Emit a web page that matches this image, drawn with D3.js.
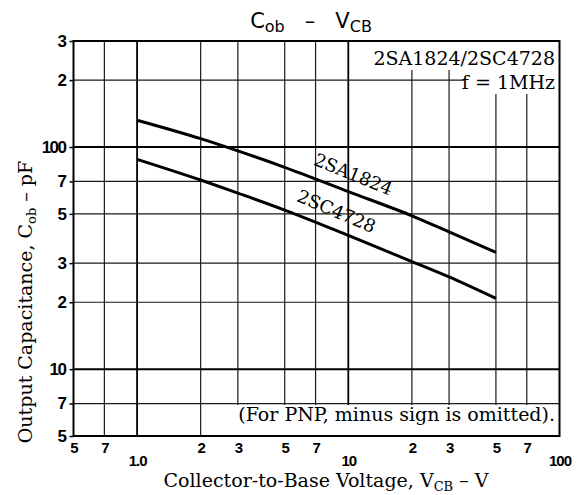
<!DOCTYPE html>
<html>
<head>
<meta charset="utf-8">
<script src="https://cdn.jsdelivr.net/npm/d3@7"></script>
<style>
  body { margin: 0; background: #fff; }
  svg { display: block; }
</style>
</head>
<body>
<div id="chart"></div>
<script>
// Cob - VCB
const vcb = [1, 2, 3, 5, 10, 20, 30, 50];
const cob2SA1824 = [132, 109, 96, 81, 63, 49, 41.5, 33.5];
const cob2SC4728 = [88, 71, 62, 52, 40, 30.5, 26, 20.8];

const xTicks = [0.5, 0.7, 1, 2, 3, 5, 7, 10, 20, 30, 50, 70, 100];
const xTickLabels = ["5", "7", "1.0", "2", "3", "5", "7", "10", "2", "3", "5", "7", "100"];
const yTicks = [5, 7, 10, 20, 30, 50, 70, 100, 200, 300];
const yTickLabels = ["5", "7", "10", "2", "3", "5", "7", "100", "2", "3"];
const xMajor = [1, 10];
const yMajor = [10, 100];

const width = 586, height = 495;
const serif = "'DejaVu Serif', serif";
const sans = "'Liberation Sans', Arial, sans-serif";

const svg = d3.select("#chart").append("svg")
    .attr("width", width)
    .attr("height", height);

const x = d3.scaleLog().domain([0.5, 100]).range([73.5, 559.5]);
const y = d3.scaleLog().domain([5, 300]).range([436, 41]);

// grid
const grid = svg.append("g");
grid.selectAll("line.vx")
    .data(xTicks.slice(1, -1))
    .join("line")
    .attr("x1", d => x(d)).attr("x2", d => x(d))
    .attr("y1", y(300)).attr("y2", y(5))
    .attr("stroke", d => xMajor.includes(d) ? "#000" : "#1a1a1a")
    .attr("stroke-width", d => xMajor.includes(d) ? 1.8 : 1.2);
grid.selectAll("line.hy")
    .data(yTicks.slice(1, -1))
    .join("line")
    .attr("y1", d => y(d)).attr("y2", d => y(d))
    .attr("x1", x(0.5)).attr("x2", x(100))
    .attr("stroke", d => yMajor.includes(d) ? "#000" : "#1a1a1a")
    .attr("stroke-width", d => yMajor.includes(d) ? 2 : 1.2);

// white patches behind the notes
svg.append("rect").attr("x", 366).attr("y", y(300)).attr("width", x(100) - 366).attr("height", 29).attr("fill", "#fff");
svg.append("rect").attr("x", 464).attr("y", 70).attr("width", x(100) - 464).attr("height", 24).attr("fill", "#fff");
svg.append("rect").attr("x", 222).attr("y", y(7) + 1.5).attr("width", x(100) - 222).attr("height", y(5) - y(7) - 1.5).attr("fill", "#fff");

// frame
svg.append("rect")
    .attr("x", x(0.5)).attr("y", y(300))
    .attr("width", x(100) - x(0.5)).attr("height", y(5) - y(300))
    .attr("fill", "none").attr("stroke", "#000").attr("stroke-width", 2);

// y axis
const yAxis = svg.append("g")
    .attr("transform", `translate(${x(0.5)},0)`)
    .call(d3.axisLeft(y).tickValues(yTicks).tickSize(4).tickPadding(4)
        .tickFormat((d, i) => yTickLabels[i]));
yAxis.select(".domain").remove();
yAxis.selectAll("line").attr("stroke", "#000").attr("stroke-width", 1.5);
yAxis.selectAll("text")
    .attr("font-family", sans).attr("font-weight", "bold")
    .attr("font-size", 17).attr("letter-spacing", -1.5).attr("fill", "#000");

// x axis
const xAxis = svg.append("g")
    .attr("transform", `translate(0,${y(5)})`)
    .call(d3.axisBottom(x).tickValues(xTicks).tickSize(0).tickPadding(6)
        .tickFormat((d, i) => xTickLabels[i]));
xAxis.select(".domain").remove();
xAxis.selectAll("text")
    .attr("font-family", sans).attr("font-weight", "bold")
    .attr("font-size", 15).attr("letter-spacing", -1).attr("fill", "#000")
    .attr("dy", d => [1, 10, 100].includes(d) ? "1.6em" : "0.71em");

// curves
const line = d3.line()
    .x((d, i) => x(vcb[i]))
    .y(d => y(d))
    .curve(d3.curveMonotoneX);
[cob2SA1824, cob2SC4728].forEach(s => {
    svg.append("path")
        .attr("d", line(s))
        .attr("fill", "none")
        .attr("stroke", "#000")
        .attr("stroke-width", 3);
});

// curve labels
svg.append("text")
    .attr("transform", "translate(351,180) rotate(22)")
    .attr("text-anchor", "middle")
    .attr("font-family", serif).attr("font-size", 18)
    .text("2SA1824");
svg.append("text")
    .attr("transform", "translate(334,217) rotate(23)")
    .attr("text-anchor", "middle")
    .attr("font-family", serif).attr("font-size", 18)
    .text("2SC4728");

// notes
svg.append("text")
    .attr("x", 555).attr("y", 65)
    .attr("text-anchor", "end")
    .attr("font-family", serif).attr("font-size", 19)
    .text("2SA1824/2SC4728");
svg.append("text")
    .attr("x", 555).attr("y", 89)
    .attr("text-anchor", "end")
    .attr("font-family", serif).attr("font-size", 19)
    .text("f = 1MHz");
svg.append("text")
    .attr("x", 555).attr("y", 421)
    .attr("text-anchor", "end")
    .attr("font-family", serif).attr("font-size", 19)
    .text("(For PNP, minus sign is omitted).");

// title
const title = svg.append("text")
    .attr("x", 311).attr("y", 28)
    .attr("text-anchor", "middle")
    .style("white-space", "pre")
    .attr("font-family", "'DejaVu Sans', sans-serif").attr("font-size", 21);
title.append("tspan").text("C");
title.append("tspan").attr("font-size", 16).attr("dy", 4).text("ob");
title.append("tspan").attr("dy", -4).text("   \u2013   ");
title.append("tspan").text("V");
title.append("tspan").attr("font-size", 16).attr("dy", 4).text("CB");

// axis titles
const xt = svg.append("text")
    .attr("x", 326).attr("y", 487)
    .attr("text-anchor", "middle")
    .attr("font-family", serif).attr("font-size", 19);
xt.append("tspan").text("Collector-to-Base Voltage, V");
xt.append("tspan").attr("font-size", 13).attr("dy", 4).text("CB");
xt.append("tspan").attr("dy", -4).text(" \u2013 V");

const yt = svg.append("text")
    .attr("transform", "translate(32,302) rotate(-90)")
    .attr("text-anchor", "middle")
    .attr("font-family", serif).attr("font-size", 19);
yt.append("tspan").text("Output Capacitance, C");
yt.append("tspan").attr("font-size", 13).attr("dy", 4).text("ob");
yt.append("tspan").attr("dy", -4).text(" \u2013 pF");
</script>
</body>
</html>
